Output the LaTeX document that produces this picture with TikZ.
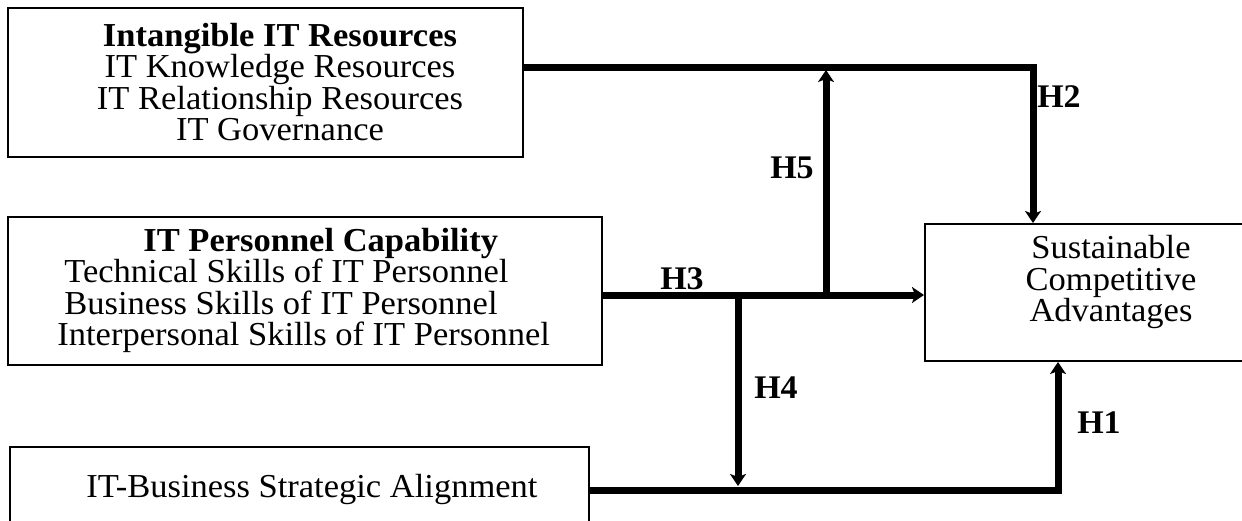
\documentclass[tikz,border=0pt]{standalone}
\usepackage{fontspec}
\setmainfont[FakeStretch=1.03]{Liberation Serif}
\usetikzlibrary{arrows.meta}

\begin{document}
\begin{tikzpicture}[x=0.5pt, y=-0.5pt,
    box/.style = {draw, line width=1pt, inner sep=0pt},
    txt/.style = {inner sep=0pt, font=\fontsize{16.75pt}{15.75pt}\selectfont},
    hlab/.style = {inner sep=0pt, font=\fontsize{16.5pt}{16.5pt}\selectfont\bfseries},
    link/.style = {line width=3.5pt, >={Stealth[length=6pt, width=8pt, inset=1.5pt]}}]
    \path[use as bounding box, clip] (0,0) rectangle (1242,520);
    \node[box, minimum width=257.5pt, minimum height=74.5pt] (ir) at (265.5,82.5) {};
    \node[box, minimum width=297pt, minimum height=74pt] (cap) at (305,291) {};
    \node[box, minimum width=289.5pt, minimum height=43pt] (isa) at (299.5,490) {};
    \node[box, minimum width=186pt, minimum height=68.5pt] (sca) at (1111,292.5) {};
    \node[txt, align=center] (ir-t) at (280,82) {\textbf{Intangible IT Resources}\\IT Knowledge Resources\\IT Relationship Resources\\IT Governance};
    \node[txt, align=left, anchor=west] (cap-t) at (57,290.5) {\hspace*{43pt}\textbf{IT Personnel Capability}\\\hspace*{3.5pt}Technical Skills of IT Personnel\\\hspace*{3.5pt}Business Skills of IT Personnel\\Interpersonal Skills of IT Personnel};
    \node[txt, anchor=west] (isa-t) at (86,489) {IT-Business Strategic Alignment};
    \node[txt, align=center] (sca-t) at (1111,282) {Sustainable\\Competitive\\Advantages};
    \coordinate (k2) at (1033,67);
    \coordinate (k5) at (826,295);
    \coordinate (k4) at (738,295);
    \coordinate (k1) at (1058,490);
    \draw[link, ->] (ir.east |- k2) -- (k2) -- (k2 |- sca.north);
    \draw[link, ->] (cap.east |- k5) -- (sca.west |- k5);
    \draw[link, ->, shorten >=1.5pt] (k5) -- (k5 |- k2);
    \draw[link, ->, shorten >=2pt] (k4) -- (k4 |- k1);
    \draw[link, ->] (isa.east |- k1) -- (k1) -- (k1 |- sca.south);
    \node[hlab] (h1) at (1099,423) {H1};
    \node[hlab] (h2) at (1059,97) {H2};
    \node[hlab] (h3) at (682,279) {H3};
    \node[hlab] (h4) at (776,388) {H4};
    \node[hlab] (h5) at (792,168) {H5};
\end{tikzpicture}
\end{document}
